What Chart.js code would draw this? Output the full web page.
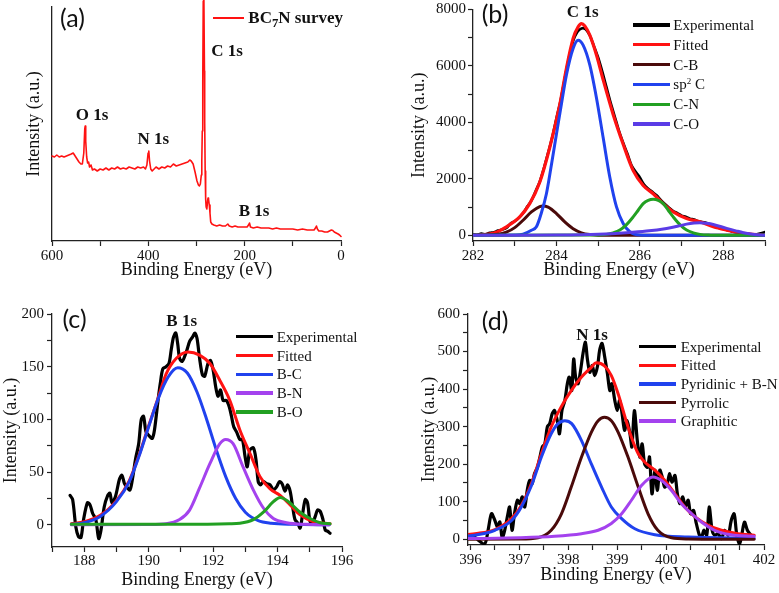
<!DOCTYPE html>
<html>
<head>
<meta charset="utf-8">
<title>BC7N XPS spectra</title>
<script src="https://cdn.jsdelivr.net/npm/chart.js@4.4.1/dist/chart.umd.min.js"></script>
<style>
  html, body { margin: 0; padding: 0; background: #ffffff; }
  #fig { position: relative; width: 779px; height: 593px; overflow: hidden; background: #ffffff; }
  #fig canvas { position: absolute; left: 0; top: 0; }
  .lab { position: absolute; white-space: nowrap; line-height: 1; transform: translate(-50%, -50%); color: #111; }
  .serif { font-family: "Liberation Serif", "DejaVu Serif", serif; }
  .bold { font-weight: bold; }
  .panel { font-family: Lato, "Open Sans", sans-serif; font-size: 25px; }
  .lgline { position: absolute; }
  .lgtext { position: absolute; white-space: nowrap; font-family: "Liberation Serif", serif; font-size: 15px; line-height: 20px; height: 20px; color: #111; }
  sup { font-size: 60%; vertical-align: 0.6em; line-height: 0; }
  sub { font-size: 75%; vertical-align: -0.3em; line-height: 0; }
</style>
</head>
<body>
<div id="fig">
  <canvas id="ca" width="779" height="593"></canvas>
  <canvas id="cb" width="779" height="593"></canvas>
  <canvas id="cc" width="779" height="593"></canvas>
  <canvas id="cd" width="779" height="593"></canvas>
</div>
<script>
// ---------------- (a) survey ----------------
const aE = [600,595,590,585,580,575,570,565,560,556,552,548,544,540,537,534,532,531,530,528,526,524,522,519,516,512,506,500,494,488,482,476,470,464,458,452,446,440,434,428,422,416,410,406,403,400.5,399,397.5,395,392,388,384,378,372,366,360,354,348,342,336,330,324,318,314,311,307,303,299,296,294,292,290,289,288,287,286,285,284.5,283.5,283,282,281,280,278.5,277,276,275,273.5,272,270.5,268,264,258,252,246,240,235,232,226,220,214,206,200,195,192,190,188,182,174,166,158,150,142,134,126,118,110,100,90,80,70,62,56,53,51,49,46,40,34,28,24,20,17,14,10,6,3,0];
const aI = [85,84,86,84,85,84,85,86,87,88,85,82,79,77,77,88,112,115,100,84,78,79,74,76,71,72,70,72,71,73,71,73,72,74,72,73,72,74,73,72,74,73,74,72,76,88,90,80,72,70,72,74,72,74,73,75,74,77,75,76,77,78,79,81,80,77,69,60,56,55,57,66,80,110,160,240,248,248,170,120,70,42,34,32,40,43,42,36,28,19,17,16,15,16,15,15,17,15,14,15,14,14,14,14,16,18,14,13,14,13,13,13,12,13,12,12,12,12,11,12,11,11,11,13,15,12,10,10,9,9,10,11,10.5,9,8,7,6,4.5];
const aXTicks = [0,100,200,300,400,500,600];
const aXLabels = [0,200,400,600];

// ---------------- (b) C 1s ----------------
const bExpE = [282.0,282.1,282.2,282.3,282.4,282.5,282.6,282.7,282.8,282.9,283.0,283.1,283.2,283.3,283.4,283.5,283.6,283.7,283.8,283.9,284.0,284.1,284.2,284.3,284.4,284.5,284.6,284.7,284.8,284.9,285.0,285.1,285.2,285.3,285.4,285.5,285.6,285.7,285.8,285.9,286.0,286.1,286.2,286.3,286.4,286.5,286.6,286.7,286.8,286.9,287.0,287.1,287.2,287.3,287.4,287.5,287.6,287.7,287.8,287.9,288.0,288.1,288.2,288.3,288.4,288.5,288.6,288.7,288.8,288.9,289.0];
const bExpI = [30,20,60,40,90,110,170,210,260,420,500,620,780,1020,1230,1560,1900,2380,2920,3480,4150,4780,5560,6300,6880,7200,7330,7300,7080,6700,6300,5800,5250,4700,4200,3700,3280,2900,2480,2250,2050,1800,1650,1540,1420,1260,1110,980,860,790,700,660,590,560,500,470,440,380,310,260,230,190,140,110,80,60,50,30,40,70,120];
const bFitE = [282.0,282.48,282.8,283.12,283.36,283.6,283.84,284.08,284.24,284.4,284.52,284.6,284.68,284.8,284.96,285.12,285.36,285.6,285.84,286.08,286.32,286.56,286.8,287.12,287.44,287.76,288.08,288.48,288.96];
const bFitI = [0,70,304,655,1123,1884,3112,4633,5920,6973,7383,7500,7418,7090,6388,5511,4282,3229,2293,1767,1474,1123,831,597,480,304,187,70,12];
const bCBE = [282.0,282.6,282.8,283.0,283.2,283.4,283.6,283.68,283.8,284.0,284.2,284.4,284.6,284.8,285.0,285.4,289.0];
const bCBI = [0,36,111,273,534,829,1021,1040,997,774,476,233,90,28,7,0,0];
const bSPE = [282.0,283.0,283.2,283.4,283.52,283.64,283.76,283.88,284.0,284.12,284.24,284.4,284.52,284.64,284.8,284.96,285.12,285.28,285.44,285.6,285.76,286.0,286.4,289.0];
const bSPI = [0,10,40,180,304,800,1474,2500,3580,4650,5686,6622,6915,6739,6037,4867,3463,2059,1006,421,129,12,0,0];
const bCNE = [282.0,285.0,285.2,285.36,285.52,285.68,285.84,285.96,286.08,286.2,286.32,286.44,286.56,286.68,286.8,286.96,287.12,287.28,287.44,287.7,288.0,289.0];
const bCNI = [0,10,35,90,187,380,655,890,1123,1240,1275,1240,1123,890,655,380,187,90,35,8,0,0];
const bCOE = [282.0,283.0,284.0,285.0,285.68,286.16,286.64,286.9,287.12,287.3,287.44,287.6,287.76,288.08,288.3,288.48,288.7,288.88,289.0];
const bCOI = [0,3,10,40,94,152,246,320,398,435,445,425,386,246,160,94,40,12,5];
const bXTicks = [282,283,284,285,286,287,288,289];
const bXLabels = [282,284,286,288];
const bYTicks = [0,1000,2000,3000,4000,5000,6000,7000,8000];
const bYLabels = [0,2000,4000,6000,8000];

// ---------------- (c) B 1s ----------------
const cExpE = [187.56,187.64,187.74,187.82,187.9,187.98,188.1,188.18,188.26,188.36,188.45,188.52,188.62,188.73,188.8,188.86,188.97,189.09,189.17,189.25,189.32,189.42,189.51,189.59,189.69,189.77,189.84,189.92,190.03,190.11,190.18,190.29,190.36,190.44,190.54,190.63,190.7,190.77,190.84,190.9,190.96,191.04,191.12,191.19,191.27,191.36,191.43,191.5,191.58,191.67,191.74,191.84,191.92,192.0,192.08,192.15,192.23,192.31,192.41,192.5,192.57,192.64,192.73,192.83,192.91,192.99,193.06,193.14,193.25,193.33,193.4,193.47,193.56,193.66,193.77,193.87,193.97,194.06,194.14,194.23,194.31,194.39,194.47,194.54,194.62,194.7,194.78,194.86,194.93,195.01,195.09,195.17,195.24,195.32,195.41,195.48,195.55,195.63];
const cExpI = [28,24,-2,-11,-12,5,21,19,11,5,-13,-5,17,28,30,21,27,43,47,39,36,33,46,62,77,100,103,88,84,82,90,118,134,148,150,153,166,178,182,172,158,155,160,166,174,178,182,177,158,142,141,153,156,147,131,122,128,118,118,112,103,93,88,81,81,65,55,71,73,62,41,38,41,39,38,33,36,41,39,32,38,32,17,5,2,-3,11,24,21,3,2,8,14,13,5,-5,-6,-8];
const cFitE = [187.6,188.0,188.5,189.0,189.4,189.7,190.0,190.3,190.54,190.86,191.22,191.58,191.9,192.21,192.52,192.83,193.14,193.45,193.77,194.08,194.39,194.7,195.12,195.63];
const cFitI = [1,3,9,23,42,66,94,121,143,158,164,161,153,137,118,90,68,46,34,28,19,9.5,3,1];
const cBCE = [187.6,188.0,188.5,189.0,189.4,189.7,190.0,190.3,190.6,190.9,191.2,191.5,191.8,192.1,192.4,192.7,193.0,193.4,193.8,194.5,195.6];
const cBCI = [0.5,2,8,22,41,65,93,120,140,149,144,126,100,71,45,25,12,4,1.5,0.5,0];
const cBNE = [187.6,190.0,190.54,190.96,191.27,191.58,191.9,192.21,192.39,192.62,192.93,193.25,193.56,193.87,194.28,194.9,195.6];
const cBNI = [0,0.3,1,5,14,35,58,77,81,77,55,33,16,6,2,0.5,0];
const cBOE = [187.6,191.0,192.5,192.83,193.25,193.56,193.87,194.08,194.34,194.7,195.01,195.32,195.63];
const cBOI = [0.5,0.5,1,1.5,5,12,22,26,22,12,6,2,1];
const cXTicks = [187,188,189,190,191,192,193,194,195,196];
const cXLabels = [188,190,192,194,196];
const cYTicks = [0,25,50,75,100,125,150,175,200];
const cYLabels = [0,50,100,150,200];

// ---------------- (d) N 1s ----------------
const dExpE = [396.05,396.12,396.29,396.36,396.43,396.5,396.55,396.6,396.65,396.7,396.76,396.8,396.85,396.9,396.96,397.01,397.06,397.11,397.16,397.21,397.26,397.31,397.37,397.42,397.47,397.52,397.57,397.62,397.67,397.72,397.78,397.82,397.87,397.93,397.98,398.02,398.07,398.11,398.15,398.2,398.25,398.3,398.35,398.39,398.44,398.49,398.54,398.6,398.64,398.69,398.74,398.8,398.85,398.89,398.95,399.0,399.05,399.1,399.15,399.2,399.26,399.3,399.35,399.41,399.46,399.51,399.56,399.62,399.66,399.71,399.77,399.82,399.87,399.92,399.97,400.03,400.07,400.12,400.18,400.23,400.28,400.34,400.39,400.45,400.5,400.56,400.61,400.67,400.72,400.77,400.83,400.88,400.94,400.99,401.06,401.13,401.2,401.27,401.33,401.39,401.44,401.5,401.55,401.6,401.66,401.71,401.78];
const dExpI = [11,2,-12,24,68,50,33,46,4,24,64,86,24,68,104,95,113,86,130,157,148,175,192,219,246,254,299,308,334,343,312,281,343,370,414,432,396,480,432,414,449,494,525,480,445,463,436,463,503,522,489,441,396,414,370,343,370,334,290,316,281,246,343,263,219,254,201,192,219,121,184,130,184,166,139,152,175,152,170,121,95,113,86,104,68,77,46,15,2,24,11,86,24,11,15,2,24,11,50,68,15,-14,15,46,24,15,4];
const dFitE = [395.95,396.09,396.5,396.84,397.04,397.25,397.45,397.65,397.86,398.06,398.27,398.47,398.57,398.74,398.88,399.02,399.16,399.29,399.43,399.56,399.77,399.97,400.18,400.38,400.58,400.86,401.13,401.47,401.8];
const dFitI = [13,15,26,55,90,150,228,299,354,396,432,458,470,462,436,387,325,272,228,206,184,157,121,86,61,37,24,15,11];
const dPyE = [395.95,396.09,396.5,396.84,397.04,397.25,397.45,397.65,397.79,397.93,398.07,398.27,398.47,398.68,398.88,399.09,399.36,399.77,400.45,401.8];
const dPyI = [9,11,24,50,86,144,219,281,308,316,308,263,201,139,86,55,28,12,6,3];
const dPrE = [395.95,397.0,397.38,397.65,397.86,398.06,398.27,398.47,398.61,398.74,398.88,399.02,399.22,399.43,399.63,399.83,400.11,400.45,401.8];
const dPrI = [0,0.5,4,24,68,139,219,285,316,325,316,285,219,139,68,24,4,1,0];
const dGrE = [395.95,396.09,397.0,397.72,398.27,398.61,398.88,399.09,399.29,399.5,399.73,399.9,400.11,400.31,400.52,400.72,400.99,401.33,401.8];
const dGrI = [2,2,4,8,15,24,42,68,104,144,166,157,130,95,68,46,24,12,8];
const dXTicks = [396,396.5,397,397.5,398,398.5,399,399.5,400,400.5,401,401.5,402];
const dXLabels = [396,397,398,399,400,401,402];
const dYTicks = [0,50,100,150,200,250,300,350,400,450,500,550,600];
const dYLabels = [0,100,200,300,400,500,600];

// ---------------- colours ----------------
const C_BLACK = '#000000', C_RED = '#ff1212', C_BLUE = '#2042ee', C_BROWN = '#4a0a0a',
      C_GREEN = '#22a022', C_VIOLET = '#5a3ce6', C_PURPLE = '#a442ee';
const FONT = 'Liberation Serif';
const INK = '#111111', AXIS = '#222222';

Chart.defaults.font.family = FONT;
Chart.defaults.font.size = 15;
Chart.defaults.color = INK;

function pts(E, I) { return E.map((x, i) => ({ x: x, y: I[i] })); }
function line(label, E, I, color, width, mode, clip) {
  const d = { label: label, data: pts(E, I), borderColor: color, backgroundColor: color,
              borderWidth: width, pointRadius: 0, fill: false, borderJoinStyle: 'round', borderCapStyle: 'round' };
  if (mode === 'smooth') d.cubicInterpolationMode = 'monotone';
  else if (mode === 'noisy') d.tension = 0.3;
  else d.tension = 0;
  if (clip === false) d.clip = false;
  return d;
}
function xAxis(c) {
  return {
    type: 'linear', position: 'bottom', min: c.min, max: c.max, reverse: !!c.reverse,
    afterBuildTicks: s => { s.ticks = c.ticks.map(v => ({ value: v })); },
    afterFit: s => { s.height = c.h; },
    ticks: { autoSkip: false, maxRotation: 0, minRotation: 0, padding: c.tp, color: INK,
             font: { family: FONT, size: 15 },
             callback: v => c.labels.indexOf(v) >= 0 ? String(v) : '' },
    grid: { display: true, drawOnChartArea: false, drawTicks: true, tickLength: 5, tickColor: AXIS, tickWidth: 1.2 },
    border: { display: true, color: AXIS, width: 1.3 },
    title: { display: true, text: 'Binding Energy (eV)', color: INK, font: { family: FONT, size: 18 },
             padding: { top: 0, bottom: c.pb } }
  };
}
function yAxis(c) {
  const ax = {
    type: 'linear', position: 'left', min: c.min, max: c.max,
    afterFit: s => { s.width = c.w; },
    border: { display: true, color: AXIS, width: 1.3 },
    title: { display: true, text: 'Intensity (a.u.)', color: INK, font: { family: FONT, size: 18 },
             padding: { top: c.pt, bottom: 0 } }
  };
  if (c.ticks) {
    ax.afterBuildTicks = s => { s.ticks = c.ticks.map(v => ({ value: v })); };
    ax.ticks = { autoSkip: false, padding: c.tp, color: INK, font: { family: FONT, size: 15, lineHeight: 1 },
                 callback: v => c.labels.indexOf(v) >= 0 ? String(v) : '' };
    ax.grid = { display: true, drawOnChartArea: false, drawTicks: true, tickLength: 5, tickColor: AXIS, tickWidth: 1.2 };
  } else {
    ax.ticks = { display: false };
    ax.grid = { display: false, drawTicks: false };
  }
  return ax;
}
function makeChart(id, datasets, x, y, pad) {
  return new Chart(document.getElementById(id), {
    type: 'line',
    data: { datasets: datasets },
    options: {
      responsive: false, animation: false, events: [], devicePixelRatio: 1,
      font: { family: FONT },
      layout: { padding: pad },
      plugins: { legend: { display: false }, tooltip: { enabled: false }, title: { display: false } },
      elements: { point: { radius: 0 } },
      scales: { x: x, y: y }
    }
  });
}

function drawAll() {
  // (a)
  makeChart('ca',
    [ line('BC7N survey', aE, aI, C_RED, 1.6, 'straight', false) ],
    xAxis({ min: 0, max: 600, reverse: true, ticks: aXTicks, labels: aXLabels, h: 40, tp: 1, pb: 0.2 }),
    yAxis({ min: 0, max: 234, w: 28.8, pt: 0 }),
    { left: 23.2, right: 438, top: 7, bottom: 312 });

  // (b)  first dataset is drawn on top
  makeChart('cb',
    [ line('C-O', bCOE, bCOI, C_VIOLET, 3, 'smooth'),
      line('C-N', bCNE, bCNI, C_GREEN, 3, 'smooth'),
      line('sp2 C', bSPE, bSPI, C_BLUE, 3, 'smooth'),
      line('C-B', bCBE, bCBI, C_BROWN, 3, 'smooth'),
      line('Fitted', bFitE, bFitI, C_RED, 3.2, 'smooth'),
      line('Experimental', bExpE, bExpI, C_BLACK, 2.6, 'noisy') ],
    xAxis({ min: 282, max: 289, ticks: bXTicks, labels: bXLabels, h: 40, tp: 1, pb: 0 }),
    yAxis({ min: -200, max: 8000, w: 64.8, pt: 0, ticks: bYTicks, labels: bYLabels, tp: 2 }),
    { left: 408.2, right: 14, top: 7, bottom: 312 });

  // (c)
  makeChart('cc',
    [ line('B-O', cBOE, cBOI, C_GREEN, 3, 'smooth'),
      line('B-N', cBNE, cBNI, C_PURPLE, 3, 'smooth'),
      line('B-C', cBCE, cBCI, C_BLUE, 3, 'smooth'),
      line('Fitted', cFitE, cFitI, C_RED, 3, 'smooth'),
      line('Experimental', cExpE, cExpI, C_BLACK, 3.2, 'noisy') ],
    xAxis({ min: 187, max: 196, ticks: cXTicks, labels: cXLabels, h: 46, tp: 0, pb: 1.6 }),
    yAxis({ min: -21, max: 200, w: 52, pt: 0, ticks: cYTicks, labels: cYLabels, tp: 3 }),
    { left: 0, right: 437, top: 314, bottom: 0 });

  // (d)
  makeChart('cd',
    [ line('Graphitic', dGrE, dGrI, C_PURPLE, 3, 'smooth'),
      line('Pyrrolic', dPrE, dPrI, C_BROWN, 3, 'smooth'),
      line('Pyridinic + B-N', dPyE, dPyI, C_BLUE, 3, 'smooth'),
      line('Fitted', dFitE, dFitI, C_RED, 3, 'smooth'),
      line('Experimental', dExpE, dExpI, C_BLACK, 3.2, 'noisy') ],
    xAxis({ min: 395.95, max: 402, ticks: dXTicks, labels: dXLabels, h: 46, tp: 1, pb: 4.6 }),
    yAxis({ min: -15.2, max: 600, w: 49.3, pt: 0, ticks: dYTicks, labels: dYLabels, tp: 3 }),
    { left: 418.7, right: 15, top: 314, bottom: 2 });
}

drawAll();

// ---------------- text overlays ----------------
const fig = document.getElementById('fig');
function place(html, cx, cy, cls, size) {
  const el = document.createElement('div');
  el.className = 'lab ' + cls;
  if (size) el.style.fontSize = size + 'px';
  el.style.left = cx + 'px';
  el.style.top = cy + 'px';
  el.innerHTML = html;
  fig.appendChild(el);
}
function legend(items, lineX, len, textX, y0, step, lw) {
  items.forEach((it, i) => {
    const cy = y0 + i * step;
    const ln = document.createElement('div');
    ln.className = 'lgline';
    ln.style.left = lineX + 'px';
    ln.style.top = (cy - lw / 2) + 'px';
    ln.style.width = len + 'px';
    ln.style.height = lw + 'px';
    ln.style.background = it[1];
    fig.appendChild(ln);
    const tx = document.createElement('div');
    tx.className = 'lgtext';
    tx.style.left = textX + 'px';
    tx.style.top = (cy - 10) + 'px';
    tx.innerHTML = it[0];
    fig.appendChild(tx);
  });
}

// panel letters
place('(a)', 72.5, 17, 'panel');
place('(b)', 495, 13, 'panel');
place('(c)', 74.5, 318, 'panel');
place('(d)', 495, 320, 'panel');

// peak labels
place('O 1s', 92, 114.3, 'serif bold', 17);
place('N 1s', 153.3, 138.3, 'serif bold', 17);
place('C 1s', 227, 50, 'serif bold', 17);
place('B 1s', 254, 210, 'serif bold', 17);
place('C 1s', 582.7, 11, 'serif bold', 17);
place('B 1s', 181.7, 320, 'serif bold', 17);
place('N 1s', 592, 334.3, 'serif bold', 17);

// legends
(function () {
  const ln = document.createElement('div');
  ln.className = 'lgline';
  ln.style.left = '212.7px'; ln.style.top = '17.4px'; ln.style.width = '31.3px'; ln.style.height = '1.8px';
  ln.style.background = C_RED;
  fig.appendChild(ln);
  const tx = document.createElement('div');
  tx.className = 'lgtext';
  tx.style.left = '248.3px'; tx.style.top = '7.3px'; tx.style.fontSize = '17px'; tx.style.fontWeight = 'bold';
  tx.style.lineHeight = '22px'; tx.style.height = '22px';
  tx.innerHTML = 'BC<sub>7</sub>N survey';
  fig.appendChild(tx);
})();
legend([['Experimental', C_BLACK], ['Fitted', C_RED], ['C-B', C_BROWN], ['sp<sup>2</sup> C', C_BLUE], ['C-N', C_GREEN], ['C-O', C_VIOLET]],
       632.7, 37, 673.3, 25, 19.8, 3.3);
legend([['Experimental', C_BLACK], ['Fitted', C_RED], ['B-C', C_BLUE], ['B-N', C_PURPLE], ['B-O', C_GREEN]],
       236, 37, 276.7, 336.7, 18.8, 3.3);
legend([['Experimental', C_BLACK], ['Fitted', C_RED], ['Pyridinic + B-N', C_BLUE], ['Pyrrolic', C_BROWN], ['Graphitic', C_PURPLE]],
       639.3, 37, 680.7, 346.7, 18.6, 3.3);
</script>
</body>
</html>
